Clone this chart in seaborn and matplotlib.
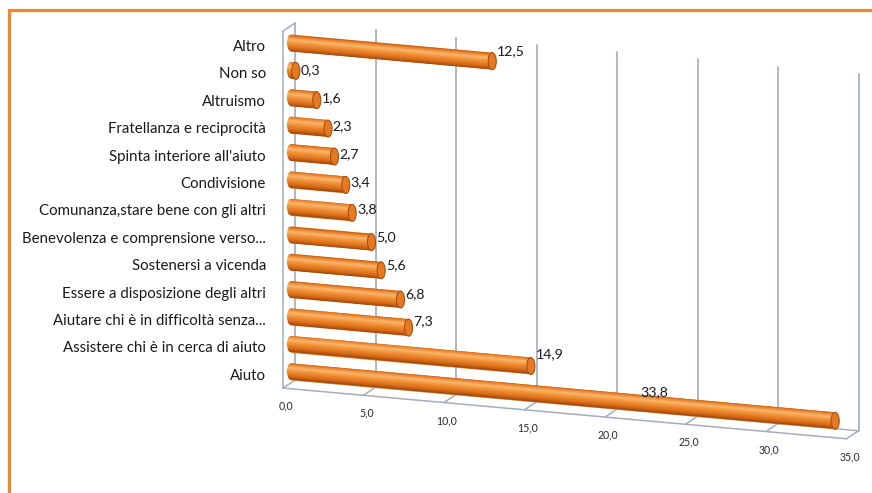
import numpy as np
import matplotlib
matplotlib.use("Agg")
import matplotlib.pyplot as plt
from matplotlib.transforms import Affine2D, IdentityTransform
from matplotlib.patches import Polygon, Ellipse, Rectangle
from matplotlib.colors import LinearSegmentedColormap
import seaborn as sns

# ---- data -------------------------------------------------------------
categories = [
    "Altro",
    "Non so",
    "Altruismo",
    "Fratellanza e reciprocità",
    "Spinta interiore all'aiuto",
    "Condivisione",
    "Comunanza,stare bene con gli altri",
    "Benevolenza e comprensione verso...",
    "Sostenersi a vicenda",
    "Essere a disposizione degli altri",
    "Aiutare chi è in difficoltà senza...",
    "Assistere chi è in cerca di aiuto",
    "Aiuto",
]
values = [12.5, 0.3, 1.6, 2.3, 2.7, 3.4, 3.8, 5.0, 5.6, 6.8, 7.3, 14.9, 33.8]
x_ticks = [0, 5, 10, 15, 20, 25, 30, 35]

# ---- figure / style ---------------------------------------------------
W, H, DPI = 872, 493, 100
sns.set_theme(style="white")
plt.rcParams["font.family"] = ["Lato", "DejaVu Sans"]

fig = plt.figure(figsize=(W / DPI, H / DPI), dpi=DPI)
fig.patch.set_facecolor("white")

# bar plane: pixel origin and pixel size of one unit / one row
X0, SX, Y0, SY = 291.0, 16.1, 43.0, 27.4
XLIM, YLIM = (-1.5, 36.5), (15.5, -1.5)
px_l, px_r = X0 + SX * XLIM[0], X0 + SX * XLIM[1]
px_t, px_b = Y0 + SY * YLIM[1], Y0 + SY * YLIM[0]
ax = fig.add_axes([px_l / W, 1 - px_b / H, (px_r - px_l) / W, (px_b - px_t) / H])

ORANGE = "#EC7E1E"
sns.barplot(x=values, y=categories, orient="h", width=0.62, color=ORANGE,
            saturation=1, ax=ax)
ax.set_xlim(XLIM)
ax.set_ylim(YLIM)
ax.set_autoscale_on(False)
ax.axis("off")

# oblique projection: everything slides downwards to the right
K = 0.09
shear = Affine2D.from_values(1, -K, 0, 1, 0, K * X0)
bar_t = ax.transData + shear
back_t = bar_t + Affine2D().translate(4, 2.7)
front_t = bar_t + Affine2D().translate(-8, -5.3)
label_t = ax.transData + Affine2D.from_values(1, -K / 2, 0, 1, 0, K / 2 * X0) \
    + Affine2D().translate(0, 1)

# ---- walls and floor --------------------------------------------------
GRID = "#A3AEBB"
RT, RF = -0.63, 12.40
for v in x_ticks:
    ax.plot([v, v], [RT, RF], transform=back_t, color=GRID, lw=1.25, zorder=1)
ax.plot([0, 35], [RF, RF], transform=back_t, color=GRID, lw=1.0, zorder=1)
ax.plot([0, 35], [RF, RF], transform=front_t, color=GRID, lw=1.1, zorder=1)
ax.plot([0, 0], [RT, RF], transform=front_t, color=GRID, lw=1.1, zorder=1)


def depth_line(v, r):
    p = front_t.transform((v, r))
    q = back_t.transform((v, r))
    ax.plot([p[0], q[0]], [p[1], q[1]], transform=IdentityTransform(),
            color=GRID, lw=1.1, zorder=1)


for v in x_ticks:
    depth_line(v, RF)
depth_line(0, RT)

for v in x_ticks:
    ax.text(v, RF, f"{v:.1f}".replace(".", ","), fontsize=7.6, color="#2A2A2A",
            ha="center", va="center",
            transform=front_t + Affine2D().translate(3, -18))

# ---- cylinders --------------------------------------------------------
cyl = LinearSegmentedColormap.from_list("cyl", [
    (0.00, "#C05A12"), (0.12, "#EC8630"), (0.30, "#F9B66C"),
    (0.50, "#F29238"), (0.78, "#DC6E18"), (1.00, "#9A460C")])
grad = np.linspace(0, 1, 128).reshape(-1, 1)
CAP_W = 0.5

for rect in list(ax.patches):
    x0, y0 = rect.get_x(), rect.get_y()
    w, h = rect.get_width(), rect.get_height()
    rect.set_transform(bar_t)
    rect.set_edgecolor("none")
    rect.set_zorder(3)
    body = Polygon([(x0, y0), (x0 + w, y0), (x0 + w, y0 + h), (x0, y0 + h)],
                   closed=True, transform=bar_t)
    left_end = Ellipse((x0, y0 + h / 2), CAP_W, h, transform=bar_t)
    for clip in (body, left_end):
        ax.imshow(grad, cmap=cyl, extent=(x0 - CAP_W, x0 + w, y0 + h, y0),
                  aspect="auto", origin="upper", interpolation="bilinear",
                  transform=bar_t, clip_path=clip, zorder=4)
    ax.add_patch(Ellipse((x0 + w, y0 + h / 2), CAP_W, h, transform=bar_t,
                         facecolor="#E47A22", edgecolor="#A9500F", lw=0.8,
                         zorder=5))

ax.set_xlim(XLIM)
ax.set_ylim(YLIM)

# ---- labels -----------------------------------------------------------
for i, name in enumerate(categories):
    ax.text(0, i, name, fontsize=10.8, color="#1A1A1A", ha="right", va="center",
            transform=ax.transData + Affine2D().translate(-25, -4))

for i, v in enumerate(values):
    txt = f"{v:.1f}".replace(".", ",")
    if v + 2.2 > x_ticks[-1]:
        # no room after the bar end: sit the label over the bar
        ax.text(v * 2 / 3, i - 0.45, txt, fontsize=10.2, color="#1A1A1A",
                ha="center", va="center", transform=bar_t, zorder=6)
    else:
        ax.text(v + 0.3, i, txt, fontsize=10.2, color="#1A1A1A",
                ha="left", va="center", transform=label_t, zorder=6)

# orange frame
fig.add_artist(Rectangle((8.5 / W, -0.1), 1.2, 1.1 - 10 / H,
                         transform=fig.transFigure, fill=False,
                         edgecolor="#EF8A2B", lw=2.3))

fig.savefig("out.png", dpi=DPI)
